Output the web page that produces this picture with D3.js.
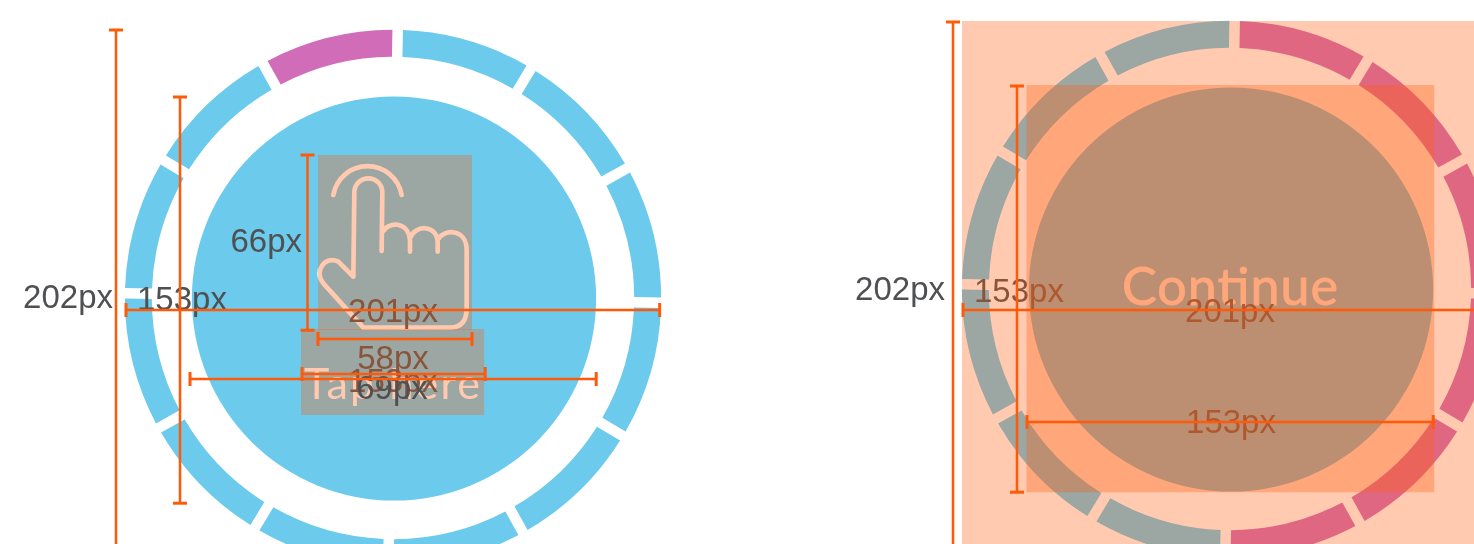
<!DOCTYPE html>
<html>
<head>
<meta charset="utf-8">
<script src="https://cdn.jsdelivr.net/npm/d3@7"></script>
<style>
  html, body { margin: 0; background: #fff; overflow: hidden; }
  svg { display: block; filter: blur(0.75px); }
  .dim { font-family: "Liberation Sans", sans-serif; font-size: 33px; fill: #4e5052; }
  .cta { font-family: Lato, sans-serif; fill: #fff; }
</style>
</head>
<body>
<div class="wrapper"></div>
<script>
// measured sizes, in the px of the annotated design
const ringSize = 202
const buttonSize = 153
const iconSize = [58, 66]
const captionWidth = 69
const leftHorizontal = [201, 58, 69, 153]
const leftVertical = [202, 153, 66]
const rightHorizontal = [201, 153]
const rightVertical = [202, 153]

// ring segments, clockwise from the top. 1 = pink, 0 = blue
const leftSegments = [0, 0, 0, 0, 0, 0, 0, 0, 0, 0, 0, 1]
const rightSegments = [1, 1, 1, 1, 1, 1, 0, 0, 0, 0, 0, 0]
const segmentColors = ["#6ccaec", "#d16cb9"]

const blue = "#6ccaec"
const orange = "#ff5f10"
const lineColor = "#ff5a08"

const width = 1474
const height = 544

const svg = d3.select(".wrapper").append("svg")
    .attr("width", width)
    .attr("height", height)

// design px to screen px
const px = d3.scaleLinear().domain([0, 100]).range([0, 265.5])

const pie = d3.pie().value(1).sort(null)
    .startAngle(Math.PI / 180)
    .endAngle(Math.PI / 180 + 2 * Math.PI)
    .padAngle(10.5 / 256)

const arc = d3.arc()
    .innerRadius(px(ringSize) / 2 - 27)
    .outerRadius(px(ringSize) / 2)
    .padRadius(256)

function drawButton(cx, cy, segments) {
  const g = svg.append("g").attr("transform", "translate(" + cx + "," + cy + ")")
  g.selectAll("path")
      .data(pie(segments))
      .enter().append("path")
      .attr("d", arc)
      .attr("fill", function(d) { return segmentColors[d.data]; })
  g.append("circle")
      .attr("cx", 1)
      .attr("cy", 0.5)
      .attr("r", px(buttonSize) / 2 - 1)
      .attr("fill", blue)
}

function label(text, x, y, anchor) {
  svg.append("text")
      .attr("class", "dim")
      .attr("x", x)
      .attr("y", y)
      .attr("text-anchor", anchor || "middle")
      .text(text + "px")
}

function overlay(x, y, w, h) {
  svg.append("rect")
      .attr("x", x)
      .attr("y", y)
      .attr("width", w)
      .attr("height", h)
      .attr("fill", orange)
      .attr("fill-opacity", 0.33)
}

function line(x1, y1, x2, y2, w) {
  svg.append("line")
      .attr("x1", x1).attr("y1", y1)
      .attr("x2", x2).attr("y2", y2)
      .attr("stroke", lineColor)
      .attr("stroke-width", w)
}

function measureV(x, y, value) {
  const end = y + px(value)
  line(x, y, x, end, 2.5)
  line(x - 7, y, x + 7, y, 3)
  line(x - 7, end, x + 7, end, 3)
}

function measureH(x, y, value) {
  const end = x + px(value)
  line(x, y, end, y, 2.5)
  line(x, y - 7, x, y + 7, 3)
  line(end, y - 7, end, y + 7, 3)
}

function drawHand() {
  // traced from the icon, 3 units = 1 screen px
  svg.append("path")
      .attr("transform", "translate(295,145) scale(0.3333)")
      .attr("fill", "none")
      .attr("stroke", "#fff")
      .attr("stroke-width", 14)
      .attr("stroke-linecap", "round")
      .attr("stroke-linejoin", "round")
      .attr("d", "M115,150 A104,104 0 0 1 320,150 "
        + "M175,395 L178,142 A42,42 0 0 1 262,142 L260,318 "
        + "M262,262 C280,228 340,228 345,285 L345,320 "
        + "M345,280 C360,238 425,238 428,290 L428,320 "
        + "M428,285 C445,250 515,250 515,315 L515,490 Q515,548 465,548 L205,548 L85,415 "
        + "C55,380 90,330 130,350 L175,395")
}

// left screen
drawButton(393, 298, leftSegments)
drawHand()
svg.append("text")
    .attr("class", "cta")
    .attr("x", 392)
    .attr("y", 399)
    .attr("text-anchor", "middle")
    .attr("font-size", 43)
    .attr("textLength", 176)
    .text("Tap here")
label(leftHorizontal[0], 393, 322)
label(leftHorizontal[1], 393, 369)
label(leftHorizontal[3], 393, 392)
overlay(318, 155, px(iconSize[0]), px(iconSize[1]))
overlay(301, 329, px(captionWidth), 86)
label(leftHorizontal[2], 392, 399)
label(leftVertical[0], 113, 308, "end")
label(leftVertical[1], 137, 310, "start")
label(leftVertical[2], 302, 252, "end")
measureH(126, 310, leftHorizontal[0])
measureH(318, 339, leftHorizontal[1])
measureH(302, 374, leftHorizontal[2])
measureH(190, 379, leftHorizontal[3])
measureV(116, 30, leftVertical[0])
measureV(180, 97, leftVertical[1])
measureV(307.5, 155, leftVertical[2])

// right screen
drawButton(1230, 289, rightSegments)
svg.append("text")
    .attr("class", "cta")
    .attr("x", 1230)
    .attr("y", 305)
    .attr("text-anchor", "middle")
    .attr("font-size", 52)
    .attr("stroke", "#fff")
    .attr("stroke-width", 0.8)
    .attr("textLength", 216)
    .text("Continue")
label(rightHorizontal[0], 1230, 322)
label(rightHorizontal[1], 1231, 433)
label(rightVertical[1], 974, 302, "start")
overlay(962, 21, px(ringSize), px(ringSize))
overlay(1026.5, 85, px(buttonSize) + 1.5, px(buttonSize) + 1)
label(rightVertical[0], 945, 300, "end")
measureH(963, 310, rightHorizontal[0])
measureH(1027, 422, rightHorizontal[1])
measureV(953, 22, rightVertical[0])
measureV(1017, 86, rightVertical[1])
</script>
</body>
</html>
